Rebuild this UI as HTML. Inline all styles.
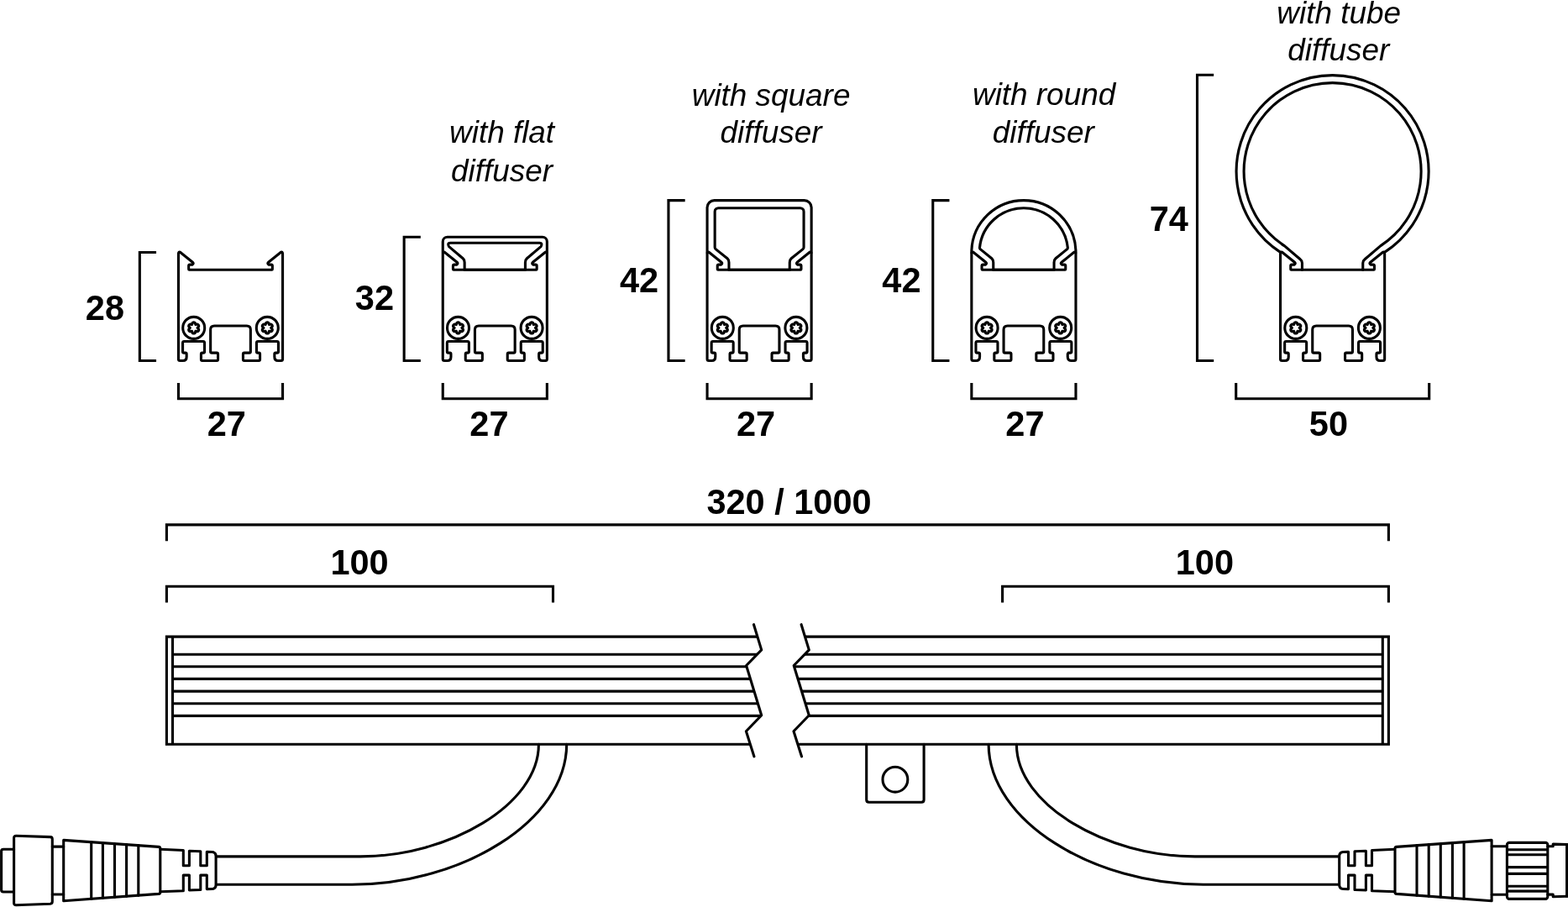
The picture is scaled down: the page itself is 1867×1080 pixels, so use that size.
<!DOCTYPE html>
<html lang="en">
<head>
<meta charset="utf-8">
<title>Profile dimensions</title>
<style>
html,body{margin:0;padding:0;background:#fff;}
body{width:1867px;height:1080px;overflow:hidden;}
svg{display:block;will-change:transform;}
svg path,svg circle,svg rect{fill:none;stroke:#000;stroke-width:3.1;stroke-linejoin:round;stroke-linecap:round;}
svg .b{stroke-linejoin:miter;stroke-linecap:butt;}
svg .c{stroke-width:3.1;}
svg .s{stroke-width:3.1;}
svg clipPath path{stroke:none;fill:#000;}
svg text{fill:#000;stroke:none;text-anchor:middle;}
svg .n{font-family:"Liberation Sans",Arial,Helvetica,sans-serif;font-weight:700;font-size:41.5px;}
svg .i{font-family:"Liberation Sans",Arial,Helvetica,sans-serif;font-style:italic;font-size:36.9px;}
</style>
</head>
<body>
<svg width="1867" height="1080" viewBox="0 0 1867 1080">
<rect x="0" y="0" width="1867" height="1080" style="fill:#fff;stroke:none"/>
<g id="profiles">
<path d="M274.5,321.2 L225.35,321.2 Q224.65,321.2 224.65,320.5 L224.65,316.6 Q224.65,315.1 226.15,315.1 L228.95,315.1 Q231.15,313.8 229.35,312.3 L214.45,300.3 Q212.55,299.6 212.45,302.2 L212.45,427.5 Q212.45,429.5 214.45,429.5 L217.85,429.5 Q222.15,429.5 222.15,424.9 L222.15,421.55 Q222.15,420.15 220.75,420.15 L218.95,420.15 Q217.55,420.15 217.55,418.75 L217.55,408.25 Q217.55,406.45 219.35,406.45 L241.75,406.45 Q243.55,406.45 243.55,408.25 L243.55,418.75 Q243.55,420.15 242.15,420.15 L240.85,420.15 Q239.45,420.15 239.45,421.55 L239.45,428.1 Q239.45,429.5 240.85,429.5 L258.15,429.5 Q259.55,429.5 259.55,428.1 L259.55,421.55 Q259.55,420.15 258.15,420.15 L252.05,420.15 Q250.65,420.15 250.65,418.75 L250.65,392.6 Q250.65,388 255.25,388 L274.5,388 L274.5,388 L293.75,388 Q298.35,388 298.35,392.6 L298.35,418.75 Q298.35,420.15 296.95,420.15 L290.85,420.15 Q289.45,420.15 289.45,421.55 L289.45,428.1 Q289.45,429.5 290.85,429.5 L308.15,429.5 Q309.55,429.5 309.55,428.1 L309.55,421.55 Q309.55,420.15 308.15,420.15 L306.85,420.15 Q305.45,420.15 305.45,418.75 L305.45,408.25 Q305.45,406.45 307.25,406.45 L329.65,406.45 Q331.45,406.45 331.45,408.25 L331.45,418.75 Q331.45,420.15 330.05,420.15 L328.25,420.15 Q326.85,420.15 326.85,421.55 L326.85,424.9 Q326.85,429.5 331.15,429.5 L334.55,429.5 Q336.55,429.5 336.55,427.5 L336.55,302.2 Q336.45,299.6 334.55,300.3 L319.65,312.3 Q317.85,313.8 320.05,315.1 L322.85,315.1 Q324.35,315.1 324.35,316.6 L324.35,320.5 Q324.35,321.2 323.65,321.2 L274.5,321.2 Z"/>
<circle cx="230.7" cy="390.4" r="13"/>
<path class="s" d="M229.2,384.38 Q230.7,383.2 232.2,384.38 L232.9,386.59 L235.16,386.09 Q236.94,386.8 236.66,388.69 L235.1,390.4 L236.66,392.11 Q236.94,394 235.16,394.71 L232.9,394.21 L232.2,396.42 Q230.7,397.6 229.2,396.42 L228.5,394.21 L226.24,394.71 Q224.46,394 224.74,392.11 L226.3,390.4 L224.74,388.69 Q224.46,386.8 226.24,386.09 L228.5,386.59 Z"/>
<circle cx="318.3" cy="390.4" r="13"/>
<path class="s" d="M316.8,384.38 Q318.3,383.2 319.8,384.38 L320.5,386.59 L322.76,386.09 Q324.54,386.8 324.26,388.69 L322.7,390.4 L324.26,392.11 Q324.54,394 322.76,394.71 L320.5,394.21 L319.8,396.42 Q318.3,397.6 316.8,396.42 L316.1,394.21 L313.84,394.71 Q312.06,394 312.34,392.11 L313.9,390.4 L312.34,388.69 Q312.06,386.8 313.84,386.09 L316.1,386.59 Z"/>
<path d="M589.3,321.2 L540.15,321.2 Q539.45,321.2 539.45,320.5 L539.45,316.6 Q539.45,315.1 540.95,315.1 L543.75,315.1 Q545.95,313.8 544.15,312.3 L529.25,300.3 Q527.35,299.6 527.25,302.2 L527.25,427.5 Q527.25,429.5 529.25,429.5 L532.65,429.5 Q536.95,429.5 536.95,424.9 L536.95,421.55 Q536.95,420.15 535.55,420.15 L533.75,420.15 Q532.35,420.15 532.35,418.75 L532.35,408.25 Q532.35,406.45 534.15,406.45 L556.55,406.45 Q558.35,406.45 558.35,408.25 L558.35,418.75 Q558.35,420.15 556.95,420.15 L555.65,420.15 Q554.25,420.15 554.25,421.55 L554.25,428.1 Q554.25,429.5 555.65,429.5 L572.95,429.5 Q574.35,429.5 574.35,428.1 L574.35,421.55 Q574.35,420.15 572.95,420.15 L566.85,420.15 Q565.45,420.15 565.45,418.75 L565.45,392.6 Q565.45,388 570.05,388 L589.3,388 L589.3,388 L608.55,388 Q613.15,388 613.15,392.6 L613.15,418.75 Q613.15,420.15 611.75,420.15 L605.65,420.15 Q604.25,420.15 604.25,421.55 L604.25,428.1 Q604.25,429.5 605.65,429.5 L622.95,429.5 Q624.35,429.5 624.35,428.1 L624.35,421.55 Q624.35,420.15 622.95,420.15 L621.65,420.15 Q620.25,420.15 620.25,418.75 L620.25,408.25 Q620.25,406.45 622.05,406.45 L644.45,406.45 Q646.25,406.45 646.25,408.25 L646.25,418.75 Q646.25,420.15 644.85,420.15 L643.05,420.15 Q641.65,420.15 641.65,421.55 L641.65,424.9 Q641.65,429.5 645.95,429.5 L649.35,429.5 Q651.35,429.5 651.35,427.5 L651.35,302.2 Q651.25,299.6 649.35,300.3 L634.45,312.3 Q632.65,313.8 634.85,315.1 L637.65,315.1 Q639.15,315.1 639.15,316.6 L639.15,320.5 Q639.15,321.2 638.45,321.2 L589.3,321.2 Z"/>
<circle cx="545.5" cy="390.4" r="13"/>
<path class="s" d="M544,384.38 Q545.5,383.2 547,384.38 L547.7,386.59 L549.96,386.09 Q551.74,386.8 551.46,388.69 L549.9,390.4 L551.46,392.11 Q551.74,394 549.96,394.71 L547.7,394.21 L547,396.42 Q545.5,397.6 544,396.42 L543.3,394.21 L541.04,394.71 Q539.26,394 539.54,392.11 L541.1,390.4 L539.54,388.69 Q539.26,386.8 541.04,386.09 L543.3,386.59 Z"/>
<circle cx="633.1" cy="390.4" r="13"/>
<path class="s" d="M631.6,384.38 Q633.1,383.2 634.6,384.38 L635.3,386.59 L637.56,386.09 Q639.34,386.8 639.06,388.69 L637.5,390.4 L639.06,392.11 Q639.34,394 637.56,394.71 L635.3,394.21 L634.6,396.42 Q633.1,397.6 631.6,396.42 L630.9,394.21 L628.64,394.71 Q626.86,394 627.14,392.11 L628.7,390.4 L627.14,388.69 Q626.86,386.8 628.64,386.09 L630.9,386.59 Z"/>
<path d="M904.1,321.2 L854.95,321.2 Q854.25,321.2 854.25,320.5 L854.25,316.6 Q854.25,315.1 855.75,315.1 L858.55,315.1 Q860.75,313.8 858.95,312.3 L844.05,300.3 Q842.15,299.6 842.05,302.2 L842.05,427.5 Q842.05,429.5 844.05,429.5 L847.45,429.5 Q851.75,429.5 851.75,424.9 L851.75,421.55 Q851.75,420.15 850.35,420.15 L848.55,420.15 Q847.15,420.15 847.15,418.75 L847.15,408.25 Q847.15,406.45 848.95,406.45 L871.35,406.45 Q873.15,406.45 873.15,408.25 L873.15,418.75 Q873.15,420.15 871.75,420.15 L870.45,420.15 Q869.05,420.15 869.05,421.55 L869.05,428.1 Q869.05,429.5 870.45,429.5 L887.75,429.5 Q889.15,429.5 889.15,428.1 L889.15,421.55 Q889.15,420.15 887.75,420.15 L881.65,420.15 Q880.25,420.15 880.25,418.75 L880.25,392.6 Q880.25,388 884.85,388 L904.1,388 L904.1,388 L923.35,388 Q927.95,388 927.95,392.6 L927.95,418.75 Q927.95,420.15 926.55,420.15 L920.45,420.15 Q919.05,420.15 919.05,421.55 L919.05,428.1 Q919.05,429.5 920.45,429.5 L937.75,429.5 Q939.15,429.5 939.15,428.1 L939.15,421.55 Q939.15,420.15 937.75,420.15 L936.45,420.15 Q935.05,420.15 935.05,418.75 L935.05,408.25 Q935.05,406.45 936.85,406.45 L959.25,406.45 Q961.05,406.45 961.05,408.25 L961.05,418.75 Q961.05,420.15 959.65,420.15 L957.85,420.15 Q956.45,420.15 956.45,421.55 L956.45,424.9 Q956.45,429.5 960.75,429.5 L964.15,429.5 Q966.15,429.5 966.15,427.5 L966.15,302.2 Q966.05,299.6 964.15,300.3 L949.25,312.3 Q947.45,313.8 949.65,315.1 L952.45,315.1 Q953.95,315.1 953.95,316.6 L953.95,320.5 Q953.95,321.2 953.25,321.2 L904.1,321.2 Z"/>
<circle cx="860.3" cy="390.4" r="13"/>
<path class="s" d="M858.8,384.38 Q860.3,383.2 861.8,384.38 L862.5,386.59 L864.76,386.09 Q866.54,386.8 866.26,388.69 L864.7,390.4 L866.26,392.11 Q866.54,394 864.76,394.71 L862.5,394.21 L861.8,396.42 Q860.3,397.6 858.8,396.42 L858.1,394.21 L855.84,394.71 Q854.06,394 854.34,392.11 L855.9,390.4 L854.34,388.69 Q854.06,386.8 855.84,386.09 L858.1,386.59 Z"/>
<circle cx="947.9" cy="390.4" r="13"/>
<path class="s" d="M946.4,384.38 Q947.9,383.2 949.4,384.38 L950.1,386.59 L952.36,386.09 Q954.14,386.8 953.86,388.69 L952.3,390.4 L953.86,392.11 Q954.14,394 952.36,394.71 L950.1,394.21 L949.4,396.42 Q947.9,397.6 946.4,396.42 L945.7,394.21 L943.44,394.71 Q941.66,394 941.94,392.11 L943.5,390.4 L941.94,388.69 Q941.66,386.8 943.44,386.09 L945.7,386.59 Z"/>
<path d="M1218.9,321.2 L1169.75,321.2 Q1169.05,321.2 1169.05,320.5 L1169.05,316.6 Q1169.05,315.1 1170.55,315.1 L1173.35,315.1 Q1175.55,313.8 1173.75,312.3 L1158.85,300.3 Q1156.95,299.6 1156.85,302.2 L1156.85,427.5 Q1156.85,429.5 1158.85,429.5 L1162.25,429.5 Q1166.55,429.5 1166.55,424.9 L1166.55,421.55 Q1166.55,420.15 1165.15,420.15 L1163.35,420.15 Q1161.95,420.15 1161.95,418.75 L1161.95,408.25 Q1161.95,406.45 1163.75,406.45 L1186.15,406.45 Q1187.95,406.45 1187.95,408.25 L1187.95,418.75 Q1187.95,420.15 1186.55,420.15 L1185.25,420.15 Q1183.85,420.15 1183.85,421.55 L1183.85,428.1 Q1183.85,429.5 1185.25,429.5 L1202.55,429.5 Q1203.95,429.5 1203.95,428.1 L1203.95,421.55 Q1203.95,420.15 1202.55,420.15 L1196.45,420.15 Q1195.05,420.15 1195.05,418.75 L1195.05,392.6 Q1195.05,388 1199.65,388 L1218.9,388 L1218.9,388 L1238.15,388 Q1242.75,388 1242.75,392.6 L1242.75,418.75 Q1242.75,420.15 1241.35,420.15 L1235.25,420.15 Q1233.85,420.15 1233.85,421.55 L1233.85,428.1 Q1233.85,429.5 1235.25,429.5 L1252.55,429.5 Q1253.95,429.5 1253.95,428.1 L1253.95,421.55 Q1253.95,420.15 1252.55,420.15 L1251.25,420.15 Q1249.85,420.15 1249.85,418.75 L1249.85,408.25 Q1249.85,406.45 1251.65,406.45 L1274.05,406.45 Q1275.85,406.45 1275.85,408.25 L1275.85,418.75 Q1275.85,420.15 1274.45,420.15 L1272.65,420.15 Q1271.25,420.15 1271.25,421.55 L1271.25,424.9 Q1271.25,429.5 1275.55,429.5 L1278.95,429.5 Q1280.95,429.5 1280.95,427.5 L1280.95,302.2 Q1280.85,299.6 1278.95,300.3 L1264.05,312.3 Q1262.25,313.8 1264.45,315.1 L1267.25,315.1 Q1268.75,315.1 1268.75,316.6 L1268.75,320.5 Q1268.75,321.2 1268.05,321.2 L1218.9,321.2 Z"/>
<circle cx="1175.1" cy="390.4" r="13"/>
<path class="s" d="M1173.6,384.38 Q1175.1,383.2 1176.6,384.38 L1177.3,386.59 L1179.56,386.09 Q1181.34,386.8 1181.06,388.69 L1179.5,390.4 L1181.06,392.11 Q1181.34,394 1179.56,394.71 L1177.3,394.21 L1176.6,396.42 Q1175.1,397.6 1173.6,396.42 L1172.9,394.21 L1170.64,394.71 Q1168.86,394 1169.14,392.11 L1170.7,390.4 L1169.14,388.69 Q1168.86,386.8 1170.64,386.09 L1172.9,386.59 Z"/>
<circle cx="1262.7" cy="390.4" r="13"/>
<path class="s" d="M1261.2,384.38 Q1262.7,383.2 1264.2,384.38 L1264.9,386.59 L1267.16,386.09 Q1268.94,386.8 1268.66,388.69 L1267.1,390.4 L1268.66,392.11 Q1268.94,394 1267.16,394.71 L1264.9,394.21 L1264.2,396.42 Q1262.7,397.6 1261.2,396.42 L1260.5,394.21 L1258.24,394.71 Q1256.46,394 1256.74,392.11 L1258.3,390.4 L1256.74,388.69 Q1256.46,386.8 1258.24,386.09 L1260.5,386.59 Z"/>
<path d="M1586.6,321.2 L1537.45,321.2 Q1536.75,321.2 1536.75,320.5 L1536.75,316.6 Q1536.75,315.1 1538.25,315.1 L1541.05,315.1 Q1543.25,313.8 1541.45,312.3 L1526.55,300.3 Q1524.65,299.6 1524.55,302.2 L1524.55,427.5 Q1524.55,429.5 1526.55,429.5 L1529.95,429.5 Q1534.25,429.5 1534.25,424.9 L1534.25,421.55 Q1534.25,420.15 1532.85,420.15 L1531.05,420.15 Q1529.65,420.15 1529.65,418.75 L1529.65,408.25 Q1529.65,406.45 1531.45,406.45 L1553.85,406.45 Q1555.65,406.45 1555.65,408.25 L1555.65,418.75 Q1555.65,420.15 1554.25,420.15 L1552.95,420.15 Q1551.55,420.15 1551.55,421.55 L1551.55,428.1 Q1551.55,429.5 1552.95,429.5 L1570.25,429.5 Q1571.65,429.5 1571.65,428.1 L1571.65,421.55 Q1571.65,420.15 1570.25,420.15 L1564.15,420.15 Q1562.75,420.15 1562.75,418.75 L1562.75,392.6 Q1562.75,388 1567.35,388 L1586.6,388 L1586.6,388 L1605.85,388 Q1610.45,388 1610.45,392.6 L1610.45,418.75 Q1610.45,420.15 1609.05,420.15 L1602.95,420.15 Q1601.55,420.15 1601.55,421.55 L1601.55,428.1 Q1601.55,429.5 1602.95,429.5 L1620.25,429.5 Q1621.65,429.5 1621.65,428.1 L1621.65,421.55 Q1621.65,420.15 1620.25,420.15 L1618.95,420.15 Q1617.55,420.15 1617.55,418.75 L1617.55,408.25 Q1617.55,406.45 1619.35,406.45 L1641.75,406.45 Q1643.55,406.45 1643.55,408.25 L1643.55,418.75 Q1643.55,420.15 1642.15,420.15 L1640.35,420.15 Q1638.95,420.15 1638.95,421.55 L1638.95,424.9 Q1638.95,429.5 1643.25,429.5 L1646.65,429.5 Q1648.65,429.5 1648.65,427.5 L1648.65,302.2 Q1648.55,299.6 1646.65,300.3 L1631.75,312.3 Q1629.95,313.8 1632.15,315.1 L1634.95,315.1 Q1636.45,315.1 1636.45,316.6 L1636.45,320.5 Q1636.45,321.2 1635.75,321.2 L1586.6,321.2 Z"/>
<circle cx="1542.8" cy="390.4" r="13"/>
<path class="s" d="M1541.3,384.38 Q1542.8,383.2 1544.3,384.38 L1545,386.59 L1547.26,386.09 Q1549.04,386.8 1548.76,388.69 L1547.2,390.4 L1548.76,392.11 Q1549.04,394 1547.26,394.71 L1545,394.21 L1544.3,396.42 Q1542.8,397.6 1541.3,396.42 L1540.6,394.21 L1538.34,394.71 Q1536.56,394 1536.84,392.11 L1538.4,390.4 L1536.84,388.69 Q1536.56,386.8 1538.34,386.09 L1540.6,386.59 Z"/>
<circle cx="1630.4" cy="390.4" r="13"/>
<path class="s" d="M1628.9,384.38 Q1630.4,383.2 1631.9,384.38 L1632.6,386.59 L1634.86,386.09 Q1636.64,386.8 1636.36,388.69 L1634.8,390.4 L1636.36,392.11 Q1636.64,394 1634.86,394.71 L1632.6,394.21 L1631.9,396.42 Q1630.4,397.6 1628.9,396.42 L1628.2,394.21 L1625.94,394.71 Q1624.16,394 1624.44,392.11 L1626,390.4 L1624.44,388.69 Q1624.16,386.8 1625.94,386.09 L1628.2,386.59 Z"/>
</g>
<path d="M527.25,301 L527.25,287.7 A5.5,5.5 0 0 1 532.75,282.2 L589.3,282.2 L589.3,282.2 L645.85,282.2 A5.5,5.5 0 0 1 651.35,287.7 L651.35,301"/>
<path d="M589.3,289.3 L536.05,289.3 Q532.25,289.3 534.55,293.6 L551.25,307.8 Q553.15,309.4 553.15,312.6 L553.15,321.2 L625.45,321.2 L625.45,312.6 Q625.45,309.4 627.35,307.8 L644.05,293.6 Q646.35,289.3 642.55,289.3 L589.3,289.3"/>
<path d="M842.05,301 L842.05,247.1 A8.5,8.5 0 0 1 850.55,238.6 L904.1,238.6 L904.1,238.6 L957.65,238.6 A8.5,8.5 0 0 1 966.15,247.1 L966.15,301"/>
<path d="M904.1,247.7 L855.35,247.7 A4.2,4.2 0 0 0 851.15,251.9 L851.15,294.6 Q851.15,295.8 852.15,296.6 L866.05,307.8 Q867.95,309.4 867.95,312.6 L867.95,321.2 L940.25,321.2 L940.25,312.6 Q940.25,309.4 942.15,307.8 L956.05,296.6 Q957.05,295.8 957.05,294.6 L957.05,251.9 A4.2,4.2 0 0 0 952.85,247.7 L904.1,247.7"/>
<path d="M1156.85,301 L1156.85,298.21 A62.1,62.1 0 0 1 1218.9,238.6 L1218.9,238.6 A62.1,62.1 0 0 1 1280.95,298.21 L1280.95,301"/>
<path d="M1218.9,247.7 A52.7,52.7 0 0 0 1166.45,295 L1166.85,296.4 L1180.85,307.8 Q1182.75,309.4 1182.75,312.6 L1182.75,321.2 L1255.05,321.2 L1255.05,312.6 Q1255.05,309.4 1256.95,307.8 L1270.95,296.4 L1271.35,295 A52.7,52.7 0 0 0 1218.9,247.7"/>
<path d="M1524.55,300.33 A114.5,114.5 0 1 1 1648.65,300.33"/>
<path d="M1550.45,321.2 L1550.45,313.2 Q1550.45,310.6 1548.15,308.8 L1529.55,292.84 A105.5,105.5 0 1 1 1643.65,292.84 L1625.05,308.8 Q1622.75,310.6 1622.75,313.2 L1622.75,321.2"/>
<path class="b" d="M186.05,300.5 L166.35,300.5 L166.35,429.5 L186.05,429.5"/>
<path class="b" d="M500.85,282.2 L481.15,282.2 L481.15,429.5 L500.85,429.5"/>
<path class="b" d="M815.65,238.6 L795.95,238.6 L795.95,429.5 L815.65,429.5"/>
<path class="b" d="M1130.45,238.6 L1110.75,238.6 L1110.75,429.5 L1130.45,429.5"/>
<path class="b" d="M1445.2,89.2 L1425.5,89.2 L1425.5,429.5 L1445.2,429.5"/>
<path class="b" d="M212.45,455.9 L212.45,474.7 L336.55,474.7 L336.55,455.9"/>
<path class="b" d="M527.25,455.9 L527.25,474.7 L651.35,474.7 L651.35,455.9"/>
<path class="b" d="M842.05,455.9 L842.05,474.7 L966.15,474.7 L966.15,455.9"/>
<path class="b" d="M1156.85,455.9 L1156.85,474.7 L1280.95,474.7 L1280.95,455.9"/>
<path class="b" d="M1471.7,455.9 L1471.7,474.7 L1701.7,474.7 L1701.7,455.9"/>
<path class="b" d="M198.4,644.2 L198.4,624.9 L1653.4,624.9 L1653.4,644.2"/>
<path class="b" d="M198.4,717.5 L198.4,698.2 L658.5,698.2 L658.5,717.5"/>
<path class="b" d="M1193.6,717.5 L1193.6,698.2 L1653.4,698.2 L1653.4,717.5"/>
<clipPath id="cl"><path d="M0,700 L897.5,743.7 L906.7,773.9 L888.6,792.5 L906.7,851.7 L888.4,870.8 L897.9,900.8 L0,950Z"/></clipPath>
<clipPath id="cr"><path d="M1867,700 L954.1,743.7 L963.3,773.9 L945.2,792.5 L963.3,851.7 L945,870.8 L954.5,900.8 L1867,950Z"/></clipPath>
<g clip-path="url(#cl)">
<path class="b" d="M920,758.1 H198.4 V886.2 H920 M205.5,758.1 V886.2"/>
<path class="b" d="M205.5,779.3 H920 M205.5,793.7 H920 M205.5,808.4 H920 M205.5,823.1 H920 M205.5,837.7 H920 M205.5,852.4 H920"/>
</g>
<g clip-path="url(#cr)">
<path class="b" d="M930,758.1 H1653.4 V886.2 H930 M1646.3,758.1 V886.2"/>
<path class="b" d="M1646.3,779.3 H930 M1646.3,793.7 H930 M1646.3,808.4 H930 M1646.3,823.1 H930 M1646.3,837.7 H930 M1646.3,852.4 H930"/>
</g>
<path d="M897.5,743.7 L906.7,773.9 L888.6,792.5 L906.7,851.7 L888.4,870.8 L897.9,900.8"/>
<path d="M954.1,743.7 L963.3,773.9 L945.2,792.5 L963.3,851.7 L945,870.8 L954.5,900.8"/>
<path d="M1031.7,886.2 V952.2 Q1031.7,955.2 1034.7,955.2 H1097.1 Q1100.1,955.2 1100.1,952.2 V886.2"/>
<circle cx="1065.9" cy="928.2" r="14.9"/>
<path class="c" d="M258.6,1019.9 H428.9 C534,1019.9 641.7,958.4 641.4,886.2"/><path class="c" d="M258.6,1053.3 H419.2 C549,1053.3 674.4,978 674.7,886.2"/>
<path class="c" d="M1593.2,1019.9 H1422.9 C1317.8,1019.9 1210.1,958.4 1210.4,886.2"/><path class="c" d="M1593.2,1053.3 H1432.6 C1302.8,1053.3 1177.4,978 1177.1,886.2"/>
<path class="c" d="M191.2,1011.3 L218.3,1012.5 L218.3,1030.8 L225.4,1030.8 L225.4,1013.2 L238.8,1013.8 L238.8,1030.8 L246.3,1030.8 L246.3,1014.2 L252.6,1014.5 Q257.1,1014.9 257.1,1019.4 L257.1,1053.8 Q257.1,1058.2 252.6,1058.5 L246.3,1058.8 L246.3,1042.1 L238.8,1042.1 L238.8,1059.5 L225.4,1060 L225.4,1042.1 L218.3,1042.1 L218.3,1060.8 L191.2,1061.8"/><path class="c" d="M75.7,1000.4 L188.8,1008.4 Q190.8,1008.6 190.8,1010.6 L190.8,1062.2 Q190.8,1064.2 188.8,1064.4 L75.7,1072.8Z"/><path class="c" d="M108.7,1002.72 L108.7,1070.36"/><path class="c" d="M122.4,1003.69 L122.4,1069.35"/><path class="c" d="M136.5,1004.68 L136.5,1068.31"/><path class="c" d="M150.6,1005.67 L150.6,1067.27"/><path class="c" d="M164.8,1006.67 L164.8,1066.22"/>
<path class="c" d="M1660.6,1011.3 L1633.5,1012.5 L1633.5,1030.8 L1626.4,1030.8 L1626.4,1013.2 L1613,1013.8 L1613,1030.8 L1605.5,1030.8 L1605.5,1014.2 L1599.2,1014.5 Q1594.7,1014.9 1594.7,1019.4 L1594.7,1053.8 Q1594.7,1058.2 1599.2,1058.5 L1605.5,1058.8 L1605.5,1042.1 L1613,1042.1 L1613,1059.5 L1626.4,1060 L1626.4,1042.1 L1633.5,1042.1 L1633.5,1060.8 L1660.6,1061.8"/><path class="c" d="M1776.1,1000.4 L1663,1008.4 Q1661,1008.6 1661,1010.6 L1661,1062.2 Q1661,1064.2 1663,1064.4 L1776.1,1072.8Z"/><path class="c" d="M1743.1,1002.72 L1743.1,1070.36"/><path class="c" d="M1729.4,1003.69 L1729.4,1069.35"/><path class="c" d="M1715.3,1004.68 L1715.3,1068.31"/><path class="c" d="M1701.2,1005.67 L1701.2,1067.27"/><path class="c" d="M1687,1006.67 L1687,1066.22"/>
<path class="c" d="M62.3,1008.1 H75.7 M62.3,1065 H75.7"/>
<path class="c" d="M19.3,995.3 L59.8,996.6 Q62.3,996.7 62.3,999.2 L62.3,1073.6 Q62.3,1076.1 59.8,1076.3 L19.3,1077.8 Q16.6,1077.9 16.6,1075.2 L16.6,997.9 Q16.6,995.2 19.3,995.3Z"/>
<path class="c" d="M16.6,1011.2 H4 Q1.6,1011.2 1.6,1013.6 V1059.6 Q1.6,1062 4,1062 H16.6"/>
<path class="c" d="M1776.2,1007.7 H1794.4 M1776.2,1065.2 H1794.4"/>
<rect class="c" x="1794.4" y="1003.4" width="48.4" height="67" rx="2.6"/>
<path class="c" d="M1795,1011.8 H1842.2 M1795,1017.8 H1842.2 M1795,1032.6 H1842.2 M1795,1040.4 H1842.2 M1795,1055.2 H1842.2 M1795,1061.1 H1842.2"/>
<path class="c" d="M1842.8,1007.7 H1849.2 V1005.1 L1866,1005.5 M1842.8,1065.1 H1849.2 V1067.8 L1866,1067.2"/>
<path class="b" d="M1865.6,1004.2 V1068.6" stroke-width="3.4"/>
<g id="labels">
<text class="n" transform="translate(124.9 381) scale(1 1.04)">28</text>
<text class="n" transform="translate(445.9 369) scale(1 1.04)">32</text>
<text class="n" transform="translate(761.1 348) scale(1 1.04)">42</text>
<text class="n" transform="translate(1073.4 348) scale(1 1.04)">42</text>
<text class="n" transform="translate(1391.8 275) scale(1 1.04)">74</text>
<text class="n" transform="translate(269.8 519) scale(1 1.04)">27</text>
<text class="n" transform="translate(582.4 519) scale(1 1.04)">27</text>
<text class="n" transform="translate(900 519) scale(1 1.04)">27</text>
<text class="n" transform="translate(1220.4 519) scale(1 1.04)">27</text>
<text class="n" transform="translate(1581.9 519) scale(1 1.04)">50</text>
<text class="n" transform="translate(939.5 612) scale(1 1.04)">320 / 1000</text>
<text class="n" transform="translate(428 684) scale(1 1.04)">100</text>
<text class="n" transform="translate(1434.4 684) scale(1 1.04)">100</text>
<text class="i" x="597.6" y="170">with flat</text>
<text class="i" x="597.5" y="215.6">diffuser</text>
<text class="i" x="918.1" y="125.6">with square</text>
<text class="i" x="918.1" y="170">diffuser</text>
<text class="i" x="1243.1" y="125">with round</text>
<text class="i" x="1242.3" y="170">diffuser</text>
<text class="i" x="1594.2" y="27.6">with tube</text>
<text class="i" x="1593.8" y="72">diffuser</text>
</g>
</svg>
</body>
</html>
